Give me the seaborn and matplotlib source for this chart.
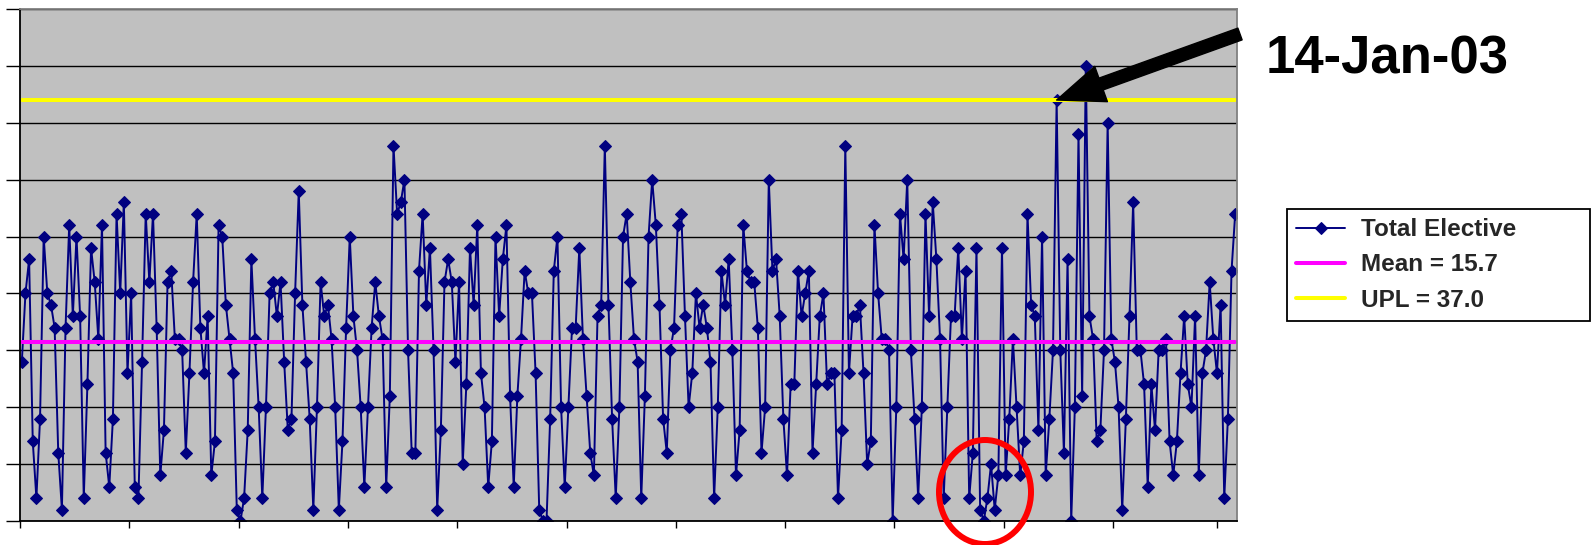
import numpy as np
import pandas as pd
import matplotlib
matplotlib.use("Agg")
import matplotlib.pyplot as plt
from matplotlib.patches import Ellipse
import seaborn as sns

# Daily count of elective admissions
elective = [
    14, 20, 23, 7, 2, 9, 25, 20, 19, 17, 6, 1, 17, 26, 18, 25, 18, 2, 12, 24, 21, 16, 26, 6, 3, 9, 27, 20, 28, 13, 20,
    3, 2, 14, 27, 21, 27, 17, 4, 8, 21, 22, 16, 16, 15, 6, 13, 21, 27, 17, 13, 18, 4, 7, 26, 25, 19, 16, 13, 1, 0, 2, 8, 23,
    16, 10, 2, 10, 20, 21, 18, 21, 14, 8, 9, 20, 29, 19, 14, 9, 1, 10, 21, 18, 19, 16, 10, 1, 7, 17, 25, 18, 15, 10, 3, 10, 17, 21,
    18, 16, 3, 11, 33, 27, 28, 30, 15, 6, 6, 22, 27, 19, 24, 15, 1, 8, 21, 23, 21, 14, 21, 5, 12, 24, 19, 26, 13, 10, 3, 7,
    25, 18, 23, 26, 11, 3, 11, 16, 22, 20, 20, 13, 1, 0, 0, 9, 22, 25, 10, 3, 10, 17, 17, 24, 16, 11, 6, 4, 18, 19, 33, 19, 9, 2,
    10, 25, 27, 21, 16, 14, 2, 11, 25, 30, 26, 19, 9, 6, 15, 17, 26, 27, 18, 10, 13, 20, 17, 19, 17, 14, 2, 10, 22, 19, 23,
    15, 4, 8, 26, 22, 21, 21, 17, 6, 10, 30, 22, 23, 18, 9, 4, 12, 12, 22, 18, 20, 22, 6, 12, 18, 20, 12, 13, 13, 2, 8, 33,
    13, 18, 18, 19, 13, 5, 7, 26, 20, 16, 16, 15, 0, 10, 27, 23, 30, 15, 9, 2, 10, 27, 18, 28, 23, 16, 2, 10, 18, 18, 24, 16, 22, 2, 6, 24,
    1, 0, 2, 5, 1, 4, 24, 4, 9, 16, 10, 4, 7, 27, 19, 18, 8, 25, 4, 9, 15, 37, 15, 6, 23, 0, 10, 34, 11, 40, 18, 16, 7,
    8, 15, 35, 16, 14, 10, 1, 9, 18, 28, 15, 15, 12, 3, 12, 8, 15, 15, 16, 7, 4, 7, 13, 18, 12, 10, 18, 4, 13, 15, 21, 16, 13, 19, 2, 9, 22, 27,
]
mean_value = 15.7
upl_value = 37.0
series_labels = ["Total Elective", "Mean = 15.7", "UPL = 37.0"]
flag_label = "14-Jan-03"

sns.set_style("white")
plt.rcParams["font.family"] = ["Liberation Sans", "DejaVu Sans"]

W, H = 1591, 545
fig = plt.figure(figsize=(W / 100, H / 100), dpi=100)
fig.patch.set_facecolor("white")
ax = fig.add_axes([20 / W, 1 - 521 / H, (1237 - 20) / W, (521 - 9) / H])

n = len(elective)
df = pd.DataFrame({
    "day": np.arange(n),
    "count": elective,
    "mean": np.full(n, mean_value),
    "upl": np.full(n, upl_value),
})

sns.lineplot(data=df, x="day", y="count", ax=ax, color="#000080", linewidth=1.4,
             marker="D", markersize=6, markeredgecolor="#000080",
             markerfacecolor="#000080", label=series_labels[0])
sns.lineplot(data=df, x="day", y="mean", ax=ax, color="#FF00FF", linewidth=2.9,
             label=series_labels[1])
sns.lineplot(data=df, x="day", y="upl", ax=ax, color="#FFFF00", linewidth=2.9,
             label=series_labels[2])

# Axes: grey plot area, black horizontal gridlines, no tick labels
ax.set_facecolor("#C0C0C0")
ax.set_xlim(-0.5, n - 0.5)
ax.set_ylim(0, 45)
ax.set_yticks(np.arange(0, 46, 5))
ax.set_xticks([-0.5 + 30 * k for k in range(11)] + [328])
ax.set_xticklabels([])
ax.set_yticklabels([])
ax.set_xlabel("")
ax.set_ylabel("")
ax.set_axisbelow(True)
ax.yaxis.grid(True, color="black", linewidth=1.0)
ax.xaxis.grid(False)
for side in ("top", "right"):
    ax.spines[side].set_color("#808080")
    ax.spines[side].set_linewidth(1.3)
for side in ("left", "bottom"):
    ax.spines[side].set_color("black")
    ax.spines[side].set_linewidth(1.3)
ax.tick_params(axis="y", direction="out", length=10, width=1.0, color="black", left=True)
ax.tick_params(axis="x", direction="out", length=5, width=1.0, color="black", bottom=True)

# Legend box to the right of the plot
leg = ax.legend(loc="upper left",
                bbox_to_anchor=(1287 / W, 1 - 318 / H, (1590 - 1287) / W, (318 - 209) / H),
                bbox_transform=fig.transFigure, mode="expand", borderaxespad=0,
                prop={"family": "Liberation Sans", "weight": "bold", "size": 17.5},
                frameon=True, fancybox=False, framealpha=1, handlelength=2.0,
                handletextpad=0.65, labelspacing=0.5, borderpad=0.38)
leg.get_frame().set_edgecolor("black")
leg.get_frame().set_linewidth(1.3)
leg.get_frame().set_facecolor("white")

# Flag the first day at or above the upper process limit
flag_idx = int(np.argmax(np.array(elective) >= upl_value))
ax.annotate("", xy=(flag_idx, elective[flag_idx]), xycoords="data",
            xytext=(1240, H - 34), textcoords="figure pixels",
            arrowprops=dict(facecolor="black", edgecolor="black", width=9,
                            headwidth=27, headlength=34, shrink=0),
            annotation_clip=False)
fig.text(1266 / W, 1 - 74 / H, flag_label, fontsize=38, fontweight="bold",
         ha="left", va="baseline", color="black")

# Red ring around the low run
fig.add_artist(Ellipse((985 / W, 1 - 492 / H), 92 / W, 104 / H,
                       transform=fig.transFigure, fill=False,
                       edgecolor="#FF0000", linewidth=4.3))

fig.savefig("out.png", dpi=100)
